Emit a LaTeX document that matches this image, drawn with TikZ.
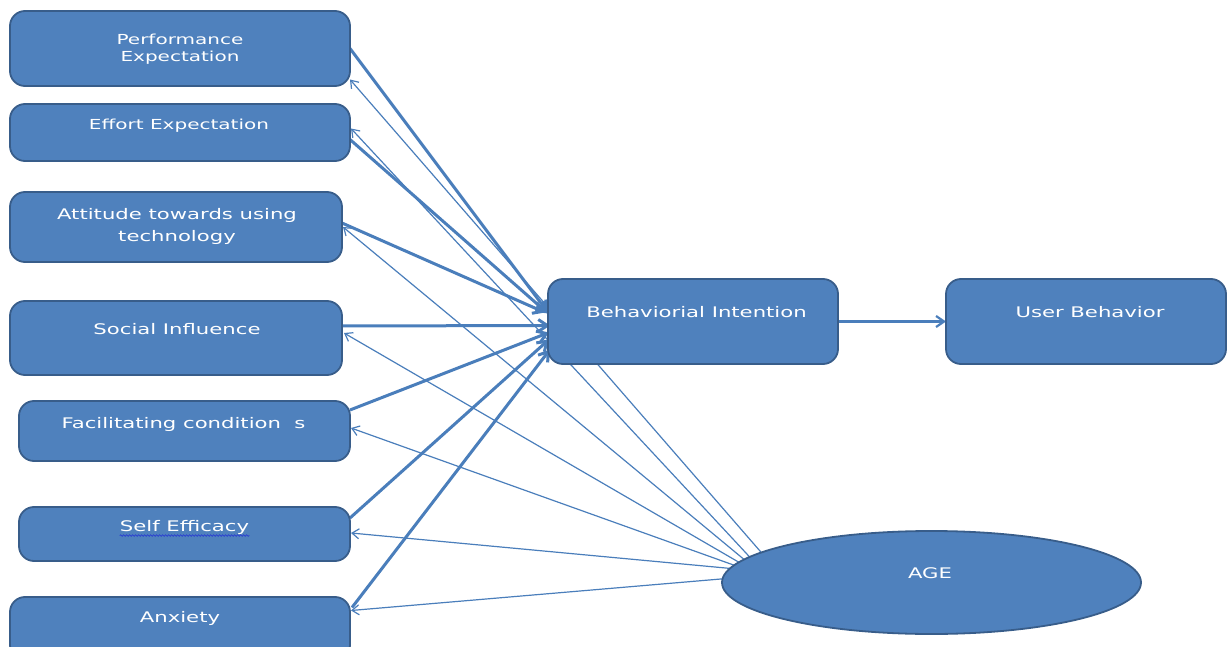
\documentclass[tikz,border=0pt]{standalone}
\usepackage{fontspec}
\newfontfamily\lblfont[FakeStretch=1.45]{DejaVu Sans}
\usetikzlibrary{arrows.meta,backgrounds,shapes.geometric,calc,decorations.pathmorphing}
\definecolor{boxfill}{HTML}{4F81BD}
\definecolor{boxline}{HTML}{385D8A}
\definecolor{linec}{HTML}{4A7EBB}
\definecolor{spell}{HTML}{2B3FD0}
\begin{document}
\begin{tikzpicture}[x=1pt,y=-1pt,
  box/.style={draw=boxline, line width=1.8pt, fill=boxfill, rounded corners=15pt, inner sep=0pt, outer sep=0pt},
  agebox/.style={ellipse, draw=boxline, line width=1.8pt, fill=boxfill, inner sep=0pt, outer sep=0pt},
  lbl/.style={text=white, font=\lblfont\fontsize{14.6}{22}\selectfont, align=center, inner sep=0pt},
  one/.style={text height=10.7pt, text depth=0pt},
  lblsmall/.style={lbl, font=\lblfont\fontsize{13.8}{17}\selectfont},
  thickarrow/.style={draw=linec, line width=3pt, -{Straight Barb[length=9pt,width=12pt]}},
  thinarrow/.style={draw=linec, line width=1.2pt, -{Straight Barb[length=7pt,width=10pt]}},
  ]
\useasboundingbox (0,0) rectangle (1227,647);
\begin{scope}
\clip (0,0) rectangle (1227,647);
% boxes
\node[box, minimum width=340pt, minimum height=75pt] (pe) at (180,48.5) {};
\node[box, minimum width=340pt, minimum height=57pt] (ee) at (180,132.5) {};
\node[box, minimum width=332pt, minimum height=70pt] (at) at (176,227) {};
\node[box, minimum width=332pt, minimum height=74pt] (si) at (176,338) {};
\node[box, minimum width=331pt, minimum height=60pt] (fc) at (184.5,431) {};
\node[box, minimum width=331pt, minimum height=54pt] (se) at (184.5,534) {};
\node[box, minimum width=340pt, minimum height=63pt] (ax) at (180,628.5) {};
\node[box, minimum width=290pt, minimum height=85pt] (bi) at (693,321.5) {};
\node[box, minimum width=280pt, minimum height=85pt] (ub) at (1086,321.5) {};
\node[agebox, minimum width=419pt, minimum height=103pt] (age) at (931.5,582.5) {};
% labels
\node[lblsmall] (pet) at (180,49) {Performance\\Expectation};
\node[lblsmall, one] (eet) at (179,124) {Effort Expectation};
\node[lbl] (att) at (177,226) {Attitude towards using\\technology};
\node[lbl, one] (sit) at (177,329) {Social Influence};
\node[lbl, one] (fct) at (183.5,423) {Facilitating condition\ \ s};
\node[lbl, one] (set) at (184.5,526) {Self Efficacy};
\node[lbl, one] (axt) at (180,617) {Anxiety};
\node[lbl, one] (bit) at (696.5,312) {Behaviorial Intention};
\node[lbl, one] (ubt) at (1090,312) {User Behavior};
\node[lbl, one] (aget) at (930,573) {AGE};
\draw[spell, line width=0.7pt, decorate, decoration={snake, amplitude=0.8pt, segment length=3pt}]
  ($(set.south west)+(0,4)$) -- ($(set.south east)+(0,4)$);
% connectors
\begin{pgfonlayer}{background}
\draw[thickarrow] (pe.east) -- ($(bi.west)+(0,-9)$);
\draw[thickarrow] ($(ee.east)+(0,7)$) -- ($(bi.west)+(0,-8)$);
\draw[thickarrow] ($(at.east)+(0,-4)$) -- ($(bi.west)+(-3,-9)$);
\draw[thickarrow] ($(si.east)+(0,-12)$) -- ($(bi.west)+(2,4)$);
\draw[thickarrow] ($(fc.east)+(0,-21)$) -- ($(bi.west)+(1,11)$);
\draw[thickarrow] ($(se.east)+(0,-16)$) -- ($(bi.west)+(1,18)$);
\draw[thickarrow] ($(ax.east)+(2,-21)$) -- ($(bi.west)+(2,28)$);
\draw[thinarrow] (age.170) -- ($(pe.east)+(0,31)$);
\draw[thinarrow] (age.172) -- ($(ee.east)+(1,-4)$);
\draw[thinarrow] (age.173.5) -- ($(at.east)+(1,0)$);
\draw[thinarrow] (age.174.5) -- ($(si.east)+(2,-5)$);
\draw[thinarrow] (age.175.5) -- ($(fc.east)+(1,-3)$);
\draw[thinarrow] (age.176.5) -- ($(se.east)+(1,-1)$);
\draw[thinarrow] (age.179) -- ($(ax.east)+(1,-18)$);
\draw[draw=linec, line width=2.2pt, -{Straight Barb[length=8pt,width=11pt]}] (bi.east) -- (ub.west);
\end{pgfonlayer}
\end{scope}
\end{tikzpicture}
\end{document}
